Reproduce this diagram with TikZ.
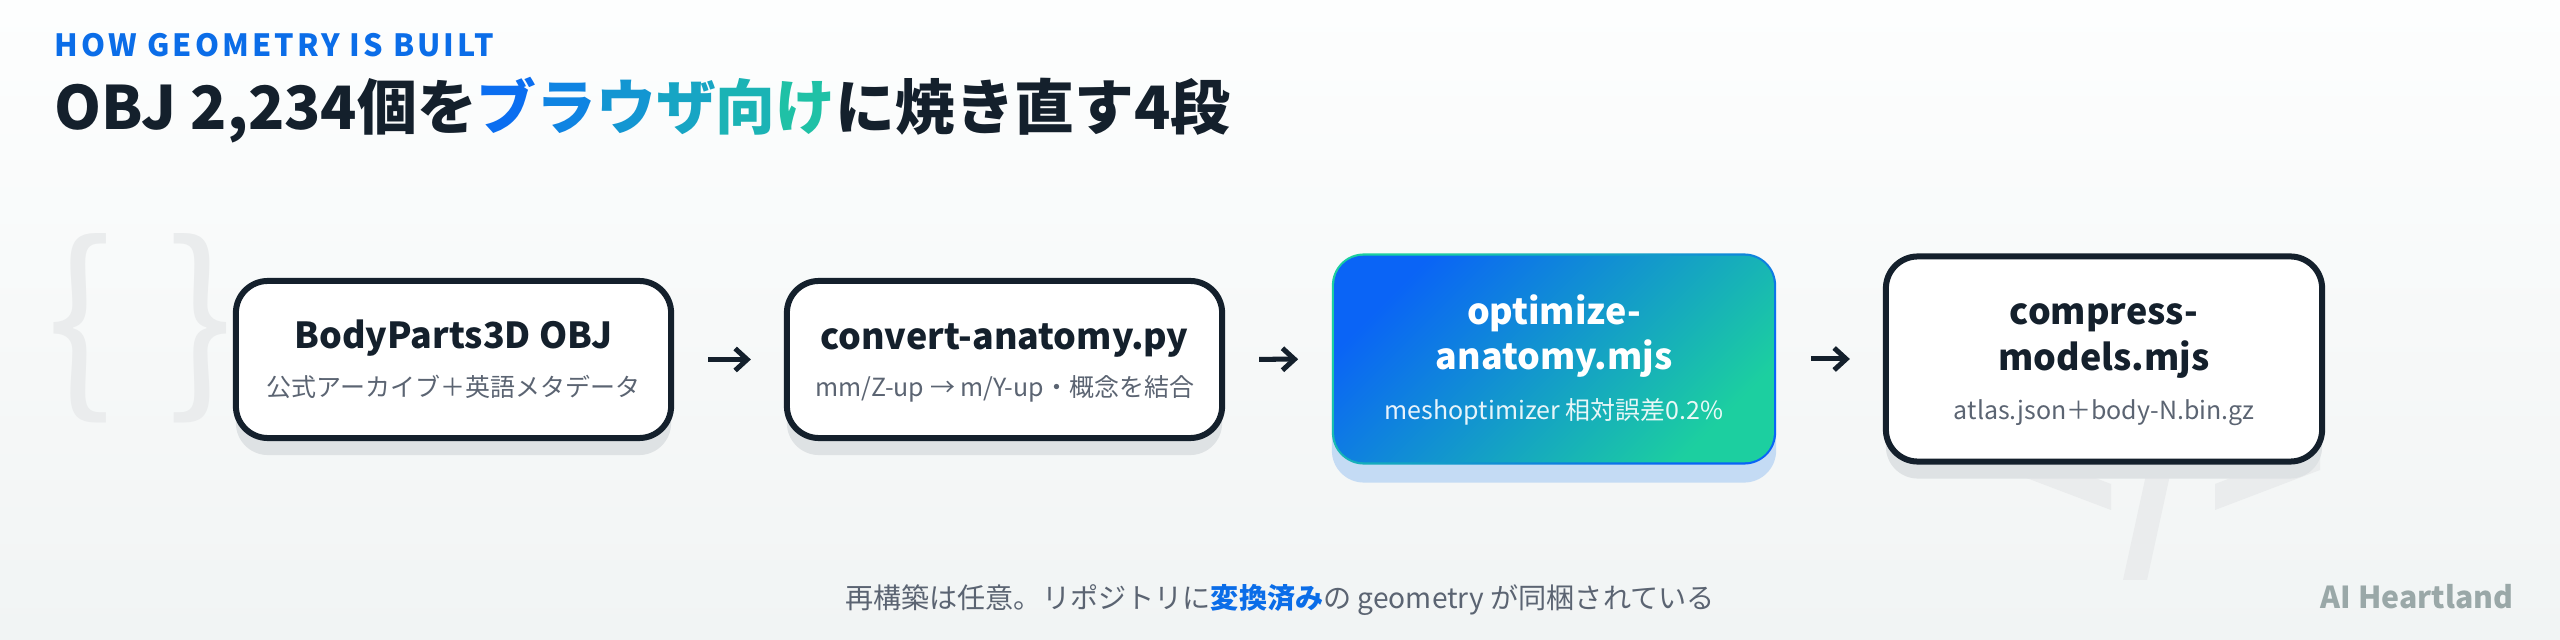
\documentclass[tikz,border=0pt]{standalone}
\usepackage{fontspec}
\setmainfont{Noto Sans CJK JP}
\usetikzlibrary{arrows.meta,shadows}
\definecolor{ink}{HTML}{14202C}
\definecolor{subgray}{HTML}{5B6472}
\definecolor{kicker}{HTML}{0B6DE8}
\definecolor{bluec}{HTML}{0A64F6}
\definecolor{tealc}{HTML}{1CCFA0}
\definecolor{shadowc}{HTML}{DEE2E4}
\definecolor{shadowb}{HTML}{C4DBF4}
\definecolor{decoc}{HTML}{EAECED}
\definecolor{brandc}{HTML}{9AA8A8}
\definecolor{bgtop}{HTML}{FDFEFE}
\definecolor{bgbot}{HTML}{F1F4F4}
\definecolor{gA}{HTML}{0B6EF0}
\definecolor{gB}{HTML}{0F84E2}
\definecolor{gC}{HTML}{1396D2}
\definecolor{gD}{HTML}{17A5C4}
\definecolor{gE}{HTML}{1BB3B5}
\definecolor{gF}{HTML}{1FC1A6}
\newcommand{\mainFont}[0]{\fontsize{10.2pt}{12.4pt}\selectfont\bfseries}
\newcommand{\subFont}[0]{\fontsize{7.1pt}{8.5pt}\selectfont}

\begin{document}
\begin{tikzpicture}[x=0.01cm, y=-0.01cm]
  \tikzset{
    txt/.style={inner sep=0pt, anchor=base},
    stagebox/.style={draw=ink, line width=0.06cm, fill=white, rounded corners=0.32cm,
      drop shadow={shadow xshift=0cm, shadow yshift=-0.17cm, fill=shadowc, opacity=1}},
    gradbox/.style={rounded corners=0.32cm, minimum width=4.44cm, minimum height=2.11cm,
      top color=tealc, bottom color=bluec, shading angle=45,
      drop shadow={shadow xshift=0cm, shadow yshift=-0.18cm, fill=shadowb, opacity=1}},
    flowarrow/.style={draw=ink, line width=0.05cm, -{Straight Barb[length=0.12cm, width=0.22cm]},
      shorten <=0.34cm, shorten >=0.33cm}
  }
  % background
  \shade[top color=bgtop, bottom color=bgbot] (0,0) rectangle (2560,640);
  \useasboundingbox (0,0) rectangle (2560,640);
  % faint decorations
  \node[txt, text=decoc, font=\fontsize{56pt}{56pt}\selectfont] (lbrace) at (80,390) {\{};
  \node[txt, text=decoc, font=\fontsize{56pt}{56pt}\selectfont] (rbrace) at (201,390) {\}};
  \fill[decoc] (1950,423) -- (2111,484) -- (2111,510) -- (1950,449) -- cycle;
  \fill[decoc] (2215,484) -- (2320,444) -- (2320,470) -- (2215,510) -- cycle;
  \fill[decoc] (2123,580) -- (2147,580) -- (2182,420) -- (2158,420) -- cycle;
  % heading
  \node[txt, anchor=base west, text=kicker,
    font=\fontsize{8.7pt}{10pt}\selectfont\bfseries\addfontfeature{LetterSpace=10}] (kick) at (54,57)
    {HOW GEOMETRY IS BUILT};
  \node[txt, anchor=base west, text=ink, font=\fontsize{17pt}{20pt}\selectfont\bfseries] (headline) at (54,130)
    {OBJ 2,234個を{\color{gA}ブ}{\color{gB}ラ}{\color{gC}ウ}{\color{gD}ザ}{\color{gE}向}{\color{gF}け}に焼き直す4段};
  % stages
  \node[stagebox, minimum width=4.35cm, minimum height=1.57cm] (b1) at (453.5,359.5) {};
  \node[stagebox, minimum width=4.35cm, minimum height=1.57cm] (b2) at (1004.5,359.5) {};
  \node[gradbox] (b3) at (1554,359) {};
  \shade[rounded corners=0.29cm, top color=bluec, bottom color=tealc, shading angle=45]
    ([shift={(3,3)}]b3.north west) rectangle ([shift={(-3,-3)}]b3.south east);
  \node[stagebox, minimum width=4.36cm, minimum height=2.05cm] (b4) at (2104,359) {};
  \node[txt, text=ink, font=\mainFont] (b1main) at (453.5,349) {BodyParts3D OBJ};
  \node[txt, text=subgray, font=\subFont] (b1sub) at (453.5,397) {公式アーカイブ＋英語メタデータ};
  \node[txt, text=ink, font=\mainFont] (b2main) at (1004.5,350) {convert-anatomy.py};
  \node[txt, text=subgray, font=\subFont] (b2sub) at (1004.5,397) {mm/Z-up → m/Y-up・概念を結合};
  \node[txt, text=white, font=\mainFont] (b3top) at (1554,325) {optimize-};
  \node[txt, text=white, font=\mainFont] (b3bot) at (1554,370) {anatomy.mjs};
  \node[txt, text=white, text opacity=0.9, font=\subFont] (b3sub) at (1554,420) {meshoptimizer 相対誤差0.2\%};
  \node[txt, text=ink, font=\mainFont] (b4top) at (2104,325) {compress-};
  \node[txt, text=ink, font=\mainFont] (b4bot) at (2104,371) {models.mjs};
  \node[txt, text=subgray, font=\subFont] (b4sub) at (2104,420) {atlas.json＋body-N.bin.gz};
  \draw[flowarrow] (b1) -- (b2);
  \draw[flowarrow] (b2) -- (b3);
  \draw[flowarrow] (b3) -- (b4);
  % footer
  \node[txt, text=subgray, font=\fontsize{8pt}{9.6pt}\selectfont] (note) at (1280,608)
    {再構築は任意。リポジトリに{\color{kicker}\bfseries 変換済み}の geometry が同梱されている};
  \node[txt, anchor=base east, text=brandc, font=\fontsize{8.6pt}{10pt}\selectfont\bfseries] (brand) at (2514,608)
    {AI Heartland};
\end{tikzpicture}
\end{document}
